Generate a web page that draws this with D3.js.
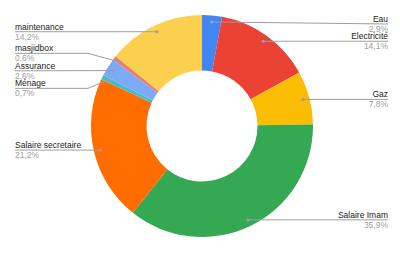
<!DOCTYPE html>
<html>
<head>
<meta charset="utf-8">
<script src="https://cdn.jsdelivr.net/npm/d3@7"></script>
<style>
  body { margin: 0; background: #fff; }
  text { font-family: Arial, "Liberation Sans", sans-serif; }
</style>
</head>
<body>
<script>
// donut data, clockwise from 12 o'clock
var categories = ["Eau", "Electricité", "Gaz", "Salaire Imam", "Salaire secretaire",
                  "Ménage", "Assurance", "masjidbox", "maintenance"];
var values = [2.9, 14.1, 7.8, 35.9, 21.2, 0.7, 2.6, 0.6, 14.2];
var colors = ["#4285f4", "#ea4335", "#fbbc04", "#34a853", "#ff6d01",
              "#46bdc6", "#7baaf7", "#f07b72", "#fcd04f"];

var width = 400, height = 254;
var cx = 202, cy = 126;
var outerR = 111, innerR = 55.5, dotR = 104.5;
var leftX = 15, rightX = 388;
var gap = 17.5;

var svg = d3.select("body").append("svg")
            .attr("width", width).attr("height", height);

var g = svg.append("g").attr("transform", "translate(" + cx + "," + cy + ")");

var pie = d3.pie().sort(null).value(function(d) { return d.v; });
var data = categories.map(function(c, i) { return {name: c, v: values[i], color: colors[i]}; });
var arcs = pie(data);

var arc = d3.arc().innerRadius(innerR).outerRadius(outerR);

g.selectAll("path.slice").data(arcs).enter().append("path")
  .attr("class", "slice")
  .attr("d", arc)
  .attr("fill", function(d) { return d.data.color; });

// label anchor points
arcs.forEach(function(d) {
  var a = (d.startAngle + d.endAngle) / 2;
  d.dx = cx + dotR * Math.sin(a);
  d.dy = cy - dotR * Math.cos(a);
  d.side = a < Math.PI ? "right" : "left";
  d.ly = d.dy;
});

// spread overlapping labels on each side
function spread(list) {
  list.sort(function(a, b) { return a.dy - b.dy; });
  var clusters = list.map(function(d) { return {items: [d], y: d.dy}; });
  var moved = true;
  while (moved) {
    moved = false;
    for (var i = 0; i < clusters.length - 1; i++) {
      var a = clusters[i], b = clusters[i + 1];
      var aEnd = a.y + (a.items.length - 1) * gap / 2;
      var bStart = b.y - (b.items.length - 1) * gap / 2;
      if (bStart - aEnd < gap) {
        var items = a.items.concat(b.items);
        var sum = d3.sum(items, function(d) { return d.dy; });
        clusters.splice(i, 2, {items: items, y: sum / items.length});
        moved = true;
        break;
      }
    }
  }
  clusters.forEach(function(c) {
    var n = c.items.length;
    c.items.forEach(function(d, k) {
      d.ly = Math.max(24, c.y + (k - (n - 1) / 2) * gap);
    });
  });
}
spread(arcs.filter(function(d) { return d.side == "right"; }));
spread(arcs.filter(function(d) { return d.side == "left"; }));

var fmt = function(v) { return v.toFixed(1).replace(".", ",") + "%"; };

var labels = svg.append("g");

arcs.forEach(function(d) {
  var left = d.side == "left";
  var endX = left ? leftX : rightX;
  var bendX = left ? 88 : 2 * cx - 88;
  var pts;
  if (Math.abs(d.ly - d.dy) > 3) {
    pts = [[d.dx, d.dy], [bendX, d.ly], [endX, d.ly]];
  } else {
    pts = [[d.dx, d.dy], [endX, d.ly]];
  }
  labels.append("path")
    .attr("d", d3.line()(pts))
    .attr("fill", "none")
    .attr("stroke", "#9e9e9e")
    .attr("stroke-width", 1);
  labels.append("circle")
    .attr("cx", d.dx).attr("cy", d.dy).attr("r", 1.6)
    .attr("fill", "#9e9e9e");
  labels.append("text")
    .attr("x", endX).attr("y", d.ly - 2)
    .attr("text-anchor", left ? "start" : "end")
    .attr("font-size", "8.5px")
    .attr("fill", "#222")
    .text(d.data.name);
  labels.append("text")
    .attr("x", endX).attr("y", d.ly + 8)
    .attr("text-anchor", left ? "start" : "end")
    .attr("font-size", "8.5px")
    .attr("fill", "#9e9e9e")
    .text(fmt(d.data.v));
});
</script>
</body>
</html>
